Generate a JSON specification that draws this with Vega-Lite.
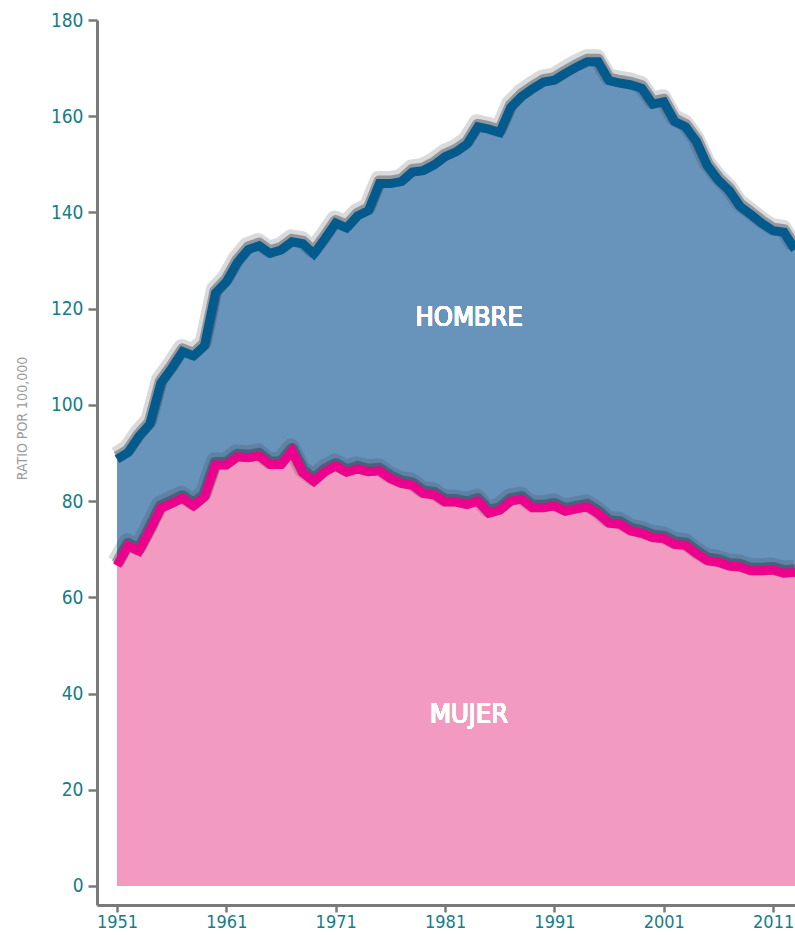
{
  "$schema": "https://vega.github.io/schema/vega-lite/v6.json",
  "width": 698,
  "height": 885,
  "autosize": {"type": "none"},
  "padding": {"left": 97, "top": 20, "right": 0, "bottom": 30},
  "background": "white",
  "config": {
    "view": {"stroke": null},
    "axis": {
      "grid": false,
      "domainColor": "#7a7a7a",
      "domainWidth": 3,
      "tickColor": "#7a7a7a",
      "tickWidth": 2.5,
      "tickSize": 9,
      "labelColor": "#177c87",
      "labelFont": "DejaVu Sans Condensed, sans-serif",
      "labelFontSize": 19,
      "labelPadding": 5
    }
  },
  "data": {
    "values": [
      {"year": 1951, "hombre": 88.7, "mujer": 66.6},
      {"year": 1952, "hombre": 90.1, "mujer": 70.7},
      {"year": 1953, "hombre": 93.4, "mujer": 69.6},
      {"year": 1954, "hombre": 96.0, "mujer": 73.9},
      {"year": 1955, "hombre": 104.5, "mujer": 78.5},
      {"year": 1956, "hombre": 107.6, "mujer": 79.5},
      {"year": 1957, "hombre": 111.1, "mujer": 80.6},
      {"year": 1958, "hombre": 110.2, "mujer": 79.0},
      {"year": 1959, "hombre": 112.3, "mujer": 80.9},
      {"year": 1960, "hombre": 123.2, "mujer": 87.5},
      {"year": 1961, "hombre": 125.6, "mujer": 87.5},
      {"year": 1962, "hombre": 129.6, "mujer": 89.2},
      {"year": 1963, "hombre": 132.3, "mujer": 89.0},
      {"year": 1964, "hombre": 133.1, "mujer": 89.4},
      {"year": 1965, "hombre": 131.5, "mujer": 87.6},
      {"year": 1966, "hombre": 132.2, "mujer": 87.6},
      {"year": 1967, "hombre": 133.9, "mujer": 90.4},
      {"year": 1968, "hombre": 133.5, "mujer": 85.9},
      {"year": 1969, "hombre": 131.4, "mujer": 84.1},
      {"year": 1970, "hombre": 134.5, "mujer": 86.1},
      {"year": 1971, "hombre": 137.8, "mujer": 87.3},
      {"year": 1972, "hombre": 136.8, "mujer": 86.0},
      {"year": 1973, "hombre": 139.3, "mujer": 86.7},
      {"year": 1974, "hombre": 140.4, "mujer": 86.1},
      {"year": 1975, "hombre": 146.0, "mujer": 86.3},
      {"year": 1976, "hombre": 146.0, "mujer": 84.7},
      {"year": 1977, "hombre": 146.4, "mujer": 83.7},
      {"year": 1978, "hombre": 148.4, "mujer": 83.3},
      {"year": 1979, "hombre": 148.7, "mujer": 81.6},
      {"year": 1980, "hombre": 149.9, "mujer": 81.3},
      {"year": 1981, "hombre": 151.6, "mujer": 79.8},
      {"year": 1982, "hombre": 152.6, "mujer": 79.8},
      {"year": 1983, "hombre": 154.2, "mujer": 79.3},
      {"year": 1984, "hombre": 157.8, "mujer": 80.0},
      {"year": 1985, "hombre": 157.3, "mujer": 77.5},
      {"year": 1986, "hombre": 156.6, "mujer": 78.1},
      {"year": 1987, "hombre": 161.8, "mujer": 80.0},
      {"year": 1988, "hombre": 164.1, "mujer": 80.4},
      {"year": 1989, "hombre": 165.7, "mujer": 78.6},
      {"year": 1990, "hombre": 167.1, "mujer": 78.6},
      {"year": 1991, "hombre": 167.5, "mujer": 79.0},
      {"year": 1992, "hombre": 168.9, "mujer": 77.9},
      {"year": 1993, "hombre": 170.2, "mujer": 78.4},
      {"year": 1994, "hombre": 171.3, "mujer": 78.8},
      {"year": 1995, "hombre": 171.3, "mujer": 77.4},
      {"year": 1996, "hombre": 167.4, "mujer": 75.4},
      {"year": 1997, "hombre": 166.9, "mujer": 75.2},
      {"year": 1998, "hombre": 166.5, "mujer": 73.8},
      {"year": 1999, "hombre": 165.8, "mujer": 73.3},
      {"year": 2000, "hombre": 162.5, "mujer": 72.4},
      {"year": 2001, "hombre": 163.0, "mujer": 72.2},
      {"year": 2002, "hombre": 158.9, "mujer": 71.0},
      {"year": 2003, "hombre": 157.8, "mujer": 70.8},
      {"year": 2004, "hombre": 154.7, "mujer": 69.1},
      {"year": 2005, "hombre": 149.7, "mujer": 67.6},
      {"year": 2006, "hombre": 146.7, "mujer": 67.3},
      {"year": 2007, "hombre": 144.5, "mujer": 66.5},
      {"year": 2008, "hombre": 141.2, "mujer": 66.3},
      {"year": 2009, "hombre": 139.5, "mujer": 65.5},
      {"year": 2010, "hombre": 137.7, "mujer": 65.5},
      {"year": 2011, "hombre": 136.2, "mujer": 65.7},
      {"year": 2012, "hombre": 135.9, "mujer": 65.0},
      {"year": 2013, "hombre": 132.3, "mujer": 65.2}
    ]
  },
  "encoding": {
    "x": {
      "field": "year",
      "type": "quantitative",
      "scale": {"domain": [1949.17, 2013], "nice": false, "zero": false},
      "axis": {"values": [1951, 1961, 1971, 1981, 1991, 2001, 2011], "format": "d", "title": null, "labelFlush": false, "tickSize": 7, "labelPadding": 1, "labelFontSize": 18}
    }
  },
  "layer": [
    {
      "mark": {"type": "area", "color": "#6894bc", "interpolate": "linear"},
      "encoding": {
        "y": {
          "field": "hombre",
          "type": "quantitative",
          "scale": {"domain": [-3.95, 180], "nice": false, "zero": false},
          "axis": {
            "values": [0, 20, 40, 60, 80, 100, 120, 140, 160, 180],
            "title": "RATIO POR 100,000",
            "titleColor": "#9a9a9a",
            "titleFont": "DejaVu Sans Condensed, sans-serif",
            "titleFontSize": 14,
            "titleFontWeight": "normal",
            "titleX": -75,
            "titleY": 398,
            "titleBaseline": "middle"
          }
        },
        "y2": {"datum": 0}
      }
    },
    {
      "mark": {"type": "line", "color": "#2e333b", "strokeWidth": 17, "opacity": 0.18, "yOffset": -4, "xOffset": -1, "strokeJoin": "round"},
      "encoding": {"y": {"field": "hombre", "type": "quantitative"}}
    },
    {
      "mark": {"type": "line", "color": "#2e333b", "strokeWidth": 12, "opacity": 0.4, "yOffset": -2, "strokeJoin": "round"},
      "encoding": {"y": {"field": "hombre", "type": "quantitative"}}
    },
    {
      "mark": {"type": "line", "color": "#035b8d", "strokeWidth": 9, "strokeJoin": "miter", "strokeCap": "butt"},
      "encoding": {"y": {"field": "hombre", "type": "quantitative"}}
    },
    {
      "mark": {"type": "area", "color": "#f39ac0", "interpolate": "linear"},
      "encoding": {
        "y": {"field": "mujer", "type": "quantitative"},
        "y2": {"datum": 0}
      }
    },
    {
      "mark": {"type": "line", "color": "#2e333b", "strokeWidth": 17, "opacity": 0.18, "yOffset": -4, "xOffset": -1, "strokeJoin": "round"},
      "encoding": {"y": {"field": "mujer", "type": "quantitative"}}
    },
    {
      "mark": {"type": "line", "color": "#2e333b", "strokeWidth": 12, "opacity": 0.4, "yOffset": -2, "strokeJoin": "round"},
      "encoding": {"y": {"field": "mujer", "type": "quantitative"}}
    },
    {
      "mark": {"type": "line", "color": "#ec008c", "strokeWidth": 9, "strokeJoin": "miter", "strokeCap": "butt"},
      "encoding": {"y": {"field": "mujer", "type": "quantitative"}}
    },
    {
      "mark": {"type": "text", "color": "#ffffff", "fontSize": 27, "fontWeight": "normal", "font": "DejaVu Sans Condensed, sans-serif", "align": "center", "baseline": "middle"},
      "encoding": {
        "x": {"datum": 1983.2},
        "y": {"datum": 118},
        "text": {"value": "HOMBRE"}
      }
    },
    {
      "mark": {"type": "text", "color": "#ffffff", "fontSize": 27, "fontWeight": "normal", "font": "DejaVu Sans Condensed, sans-serif", "align": "center", "baseline": "middle"},
      "encoding": {
        "x": {"datum": 1983.2},
        "y": {"datum": 35.5},
        "text": {"value": "MUJER"}
      }
    }
  ]
}
